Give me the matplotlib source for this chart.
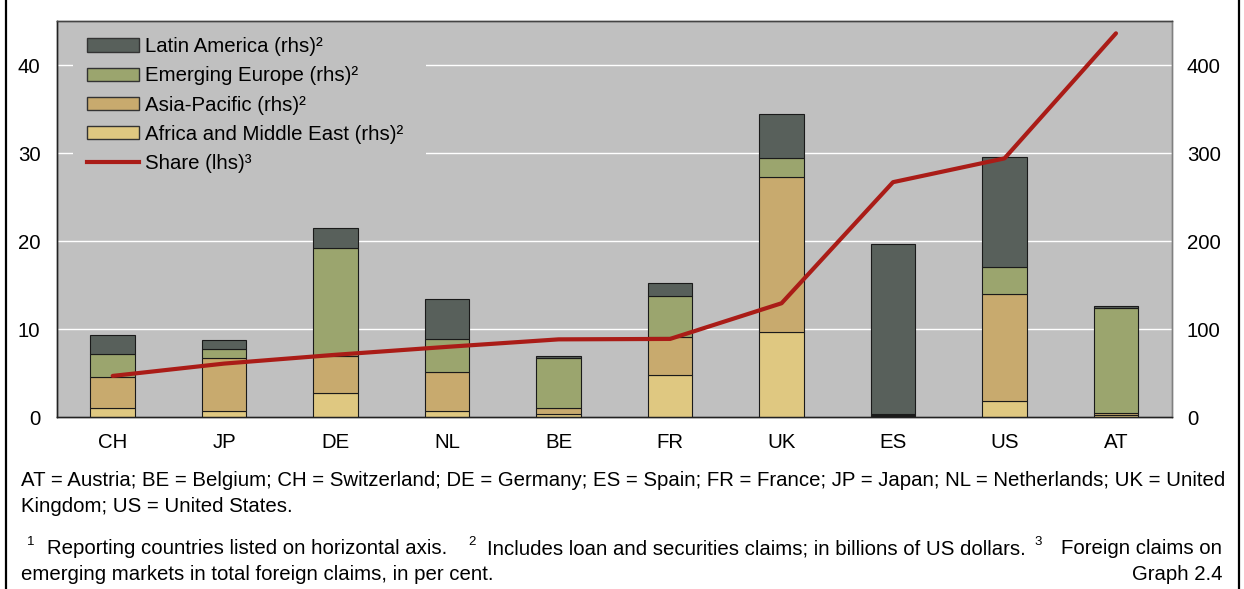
import matplotlib
matplotlib.use("Agg")
import matplotlib.pyplot as plt
import numpy as np
from matplotlib.lines import Line2D
from matplotlib.patches import Patch, Rectangle

plt.rcParams['font.family'] = ['Liberation Sans', 'DejaVu Sans']

categories = ['CH', 'JP', 'DE', 'NL', 'BE', 'FR', 'UK', 'ES', 'US', 'AT']
africa = [10, 7.5, 28, 7.5, 4, 48, 97, 1.5, 18, 2.5]
asia = [35.5, 59.5, 41.5, 44, 6.5, 43, 176, 1, 121.5, 2]
europe = [26, 11, 123, 37, 57, 46.5, 21, 1, 31, 119.5]
latin = [21.5, 9.5, 22.5, 45.5, 2.5, 15, 50, 193, 125.5, 2]
share = [4.7, 6.1, 7.1, 8.0, 8.85, 8.9, 12.95, 26.7, 29.4, 43.6]

left_ticks = [0, 10, 20, 30, 40]
right_ticks = [0, 100, 200, 300, 400]

series = [
    ('Africa and Middle East (rhs)²', africa, '#DFC881'),
    ('Asia-Pacific (rhs)²', asia, '#C8AA6E'),
    ('Emerging Europe (rhs)²', europe, '#9BA56E'),
    ('Latin America (rhs)²', latin, '#58605B'),
]
line_color = '#AA1C17'
bg = '#C0C0C0'
FS = 14.7

W, H = 1244, 589
fig = plt.figure(figsize=(W / 100, H / 100), dpi=100)
ax_l, ax_r, ax_b, ax_t = 57, 1171.7, 417.3, 21
aw, ah = ax_r - ax_l, ax_b - ax_t
ax = fig.add_axes([ax_l / W, 1 - ax_b / H, aw / W, ah / H])
ax2 = ax.twinx()

x = np.arange(len(categories))
# bars on right axis
ax2.patch.set_visible(True)
ax2.set_facecolor(bg)
bottom = np.zeros(len(categories))
handles = {}
for name, vals, col in series:
    ax2.bar(x, vals, width=0.4, bottom=bottom, color=col, edgecolor='#1a1a1a',
            linewidth=0.8, zorder=3)
    handles[name] = Patch(facecolor=col, edgecolor='#333333', linewidth=1.0)
    bottom += np.array(vals)
ax2.set_ylim(0, 450)
ax2.set_yticks(right_ticks)
ax2.set_xticks(np.arange(len(categories) - 1) + 0.5, minor=True)
ax2.grid(True, which='major', axis='y', color='white', linewidth=1.0, zorder=0)
ax2.grid(True, which='minor', axis='x', color='white', linewidth=1.0, zorder=0)
ax2.set_axisbelow(True)
ax2.tick_params(axis='y', length=0, pad=11, labelsize=FS)

# legend background box hiding the grid
ax2.add_patch(Rectangle(((73 - ax_l) / aw, (ax_b - 176) / ah), (426 - 73) / aw, (176 - 30) / ah,
                        transform=ax2.transAxes, facecolor=bg, edgecolor='none', zorder=2))

# line on left axis, drawn above
ax.set_zorder(ax2.get_zorder() + 1)
ax.patch.set_visible(False)
ax.plot(x, share, color=line_color, linewidth=3.0, solid_capstyle='round', zorder=5)
ax.set_ylim(0, 45)
ax.set_yticks(left_ticks)
ax.set_xlim(-0.5, len(categories) - 0.5)
ax.set_xticks(x)
ax.set_xticklabels(categories)
ax.tick_params(axis='y', length=0, pad=12, labelsize=FS)
ax.tick_params(axis='x', which='both', length=0, pad=11, labelsize=FS)
ax2.tick_params(axis='x', which='both', length=0)

for a in (ax, ax2):
    a.spines['left'].set_color('#222222')
    a.spines['bottom'].set_color('#222222')
    a.spines['top'].set_color('#444444')
    a.spines['right'].set_color('#808080')
    for s in a.spines.values():
        s.set_linewidth(1.0)

leg_handles = [handles['Latin America (rhs)²'], handles['Emerging Europe (rhs)²'],
               handles['Asia-Pacific (rhs)²'], handles['Africa and Middle East (rhs)²'],
               Line2D([0], [0], color=line_color, linewidth=3.0)]
leg_labels = ['Latin America (rhs)²', 'Emerging Europe (rhs)²', 'Asia-Pacific (rhs)²',
              'Africa and Middle East (rhs)²', 'Share (lhs)³']
leg = ax.legend(leg_handles, leg_labels, loc='upper left',
                bbox_to_anchor=(24 / aw, 1 - 10 / ah),
                borderaxespad=0, borderpad=0.3, frameon=False, fontsize=FS,
                handlelength=2.55, handleheight=0.62, handletextpad=0.3,
                labelspacing=0.50)

# footnotes
def ft(px, py, s, **kw):
    fig.text(px / W, 1 - py / H, s, va='center', **kw)

ft(21, 480, 'AT = Austria; BE = Belgium; CH = Switzerland; DE = Germany; ES = Spain; FR = France; '
   'JP = Japan; NL = Netherlands; UK = United', fontsize=FS)
ft(21, 507, 'Kingdom; US = United States.', fontsize=FS)
ft(27, 542, '1', fontsize=9.5)
ft(47, 549, 'Reporting countries listed on horizontal axis.', fontsize=FS)
ft(468, 542, '2', fontsize=9.5)
ft(487, 549, 'Includes loan and securities claims; in billions of US dollars.', fontsize=FS)
ft(1034, 542, '3', fontsize=9.5)
ft(1222, 549, 'Foreign claims on', fontsize=FS, ha='right')
ft(21, 574, 'emerging markets in total foreign claims, in per cent.', fontsize=FS)
ft(1223, 574, 'Graph 2.4', fontsize=FS, ha='right')

# outer frame lines
fig.add_artist(Line2D([5.5 / W, 5.5 / W], [0, 1], color='black', linewidth=1.6,
                      transform=fig.transFigure))
fig.add_artist(Line2D([1238.5 / W, 1238.5 / W], [0, 1], color='black', linewidth=1.6,
                      transform=fig.transFigure))

fig.savefig('out.png', dpi=100, facecolor='white')
